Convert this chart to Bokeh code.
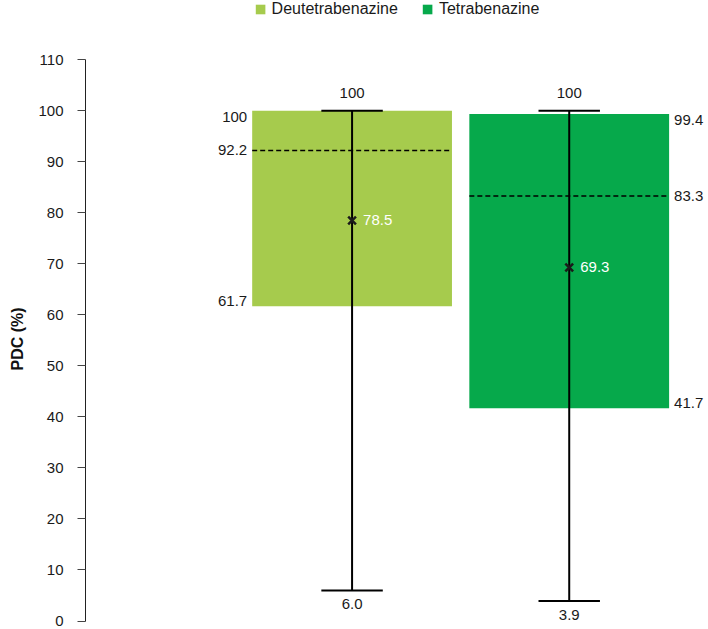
from bokeh.plotting import figure
from bokeh.models import ColumnDataSource, FixedTicker, Title
from bokeh.core.properties import value
from bokeh.embed import file_html
from bokeh.resources import INLINE

# ---- data ----
groups = ["Deutetrabenazine", "Tetrabenazine"]
low = [6.0, 3.9]
q1 = [61.7, 41.7]
median = [92.2, 83.3]
q3 = [100.0, 99.4]
high = [100.0, 100.0]
mean = [78.5, 69.3]
colors = ["#A6CB4D", "#06A94B"]
y_ticks = [0, 10, 20, 30, 40, 50, 60, 70, 80, 90, 100, 110]
y_title = "PDC (%)"

def fmt(v):
    return "100" if v == 100 else f"{v:.1f}"

FONT = "Liberation Sans"
W, H = 708, 629
LEFT = 84
PXU_X = 217.5
X_START = 1 - 267.0 / PXU_X
X_END = X_START + (W - LEFT) / PXU_X
Y0_PX, Y110_PX = 620.5, 59.3
PXU_Y = (Y0_PX - Y110_PX) / 110
Y_START = -(H - Y0_PX) / PXU_Y
Y_END = 110 + Y110_PX / PXU_Y

BOX_HALF = 0.46
CAP_HALF = 0.1415

xc = [i + 1 for i in range(len(groups))]

p = figure(width=W, height=H, x_range=(X_START, X_END), y_range=(Y_START, Y_END),
           output_backend="svg", toolbar_location=None, x_axis_type=None,
           min_border_left=LEFT, min_border_right=0, min_border_top=0, min_border_bottom=0)
p.grid.visible = False
p.outline_line_color = None
p.background_fill_color = "white"

# boxes
for i, g in enumerate(groups):
    bsrc = ColumnDataSource(dict(left=[xc[i] - BOX_HALF], right=[xc[i] + BOX_HALF],
                                 bottom=[q1[i]], top=[q3[i]]))
    p.quad(left="left", right="right", bottom="bottom", top="top", source=bsrc,
           fill_color=colors[i], line_color=None, legend_label=g)

src = ColumnDataSource(dict(
    x=xc,
    xl=[x - BOX_HALF for x in xc],
    xr=[x + BOX_HALF for x in xc],
    cl=[x - CAP_HALF for x in xc],
    cr=[x + CAP_HALF for x in xc],
    low=low, high=high, q1=q1, q3=q3, median=median, mean=mean,
    low_t=[fmt(v) for v in low], high_t=[fmt(v) for v in high],
    mean_t=[fmt(v) for v in mean],
))

# median dashed line
p.segment(x0="xl", x1="xr", y0="median", y1="median", source=src,
          line_color="black", line_width=1.5, line_dash="5 3")
# whiskers
p.segment(x0="x", x1="x", y0="low", y1="high", source=src, line_color="black", line_width=2)
p.segment(x0="cl", x1="cr", y0="low", y1="low", source=src, line_color="black", line_width=2)
p.segment(x0="cl", x1="cr", y0="high", y1="high", source=src, line_color="black", line_width=2)
# mean marker
p.scatter(x="x", y="mean", source=src, marker="x", size=11, line_width=2.5, line_color="#1a1a1a")

TS = "15px"
TC = "#1a1a1a"
# whisker labels
p.text(x="x", y="high", text="high_t", source=src, text_align="center",
       text_baseline="alphabetic", y_offset=-18, text_font=value(FONT),
       text_font_size=TS, text_color=TC)
p.text(x="x", y="low", text="low_t", source=src, text_align="center",
       text_baseline="alphabetic", y_offset=14, text_font=value(FONT),
       text_font_size=TS, text_color=TC)
# mean labels
p.text(x="x", y="mean", text="mean_t", source=src, text_align="left",
       text_baseline="alphabetic", x_offset=11, y_offset=-0.5, text_font=value(FONT),
       text_font_size=TS, text_color="white")

# box side labels: first box on left side, second on right side
for i in range(len(groups)):
    side = "xl" if i == 0 else "xr"
    align = "right" if i == 0 else "left"
    xo = -5 if i == 0 else 5
    s = ColumnDataSource(dict(
        x=[src.data[side][i]] * 3,
        y=[q3[i], median[i], q1[i]],
        t=[fmt(q3[i]), fmt(median[i]), fmt(q1[i])],
        yo=[6.5, -0.5, -5.5],
    ))
    p.text(x="x", y="y", text="t", source=s, text_align=align, text_baseline="alphabetic",
           x_offset=xo, y_offset="yo", text_font=value(FONT), text_font_size=TS, text_color=TC)

# y axis
ax = p.yaxis[0]
ax.ticker = FixedTicker(ticks=y_ticks)
ax.bounds = (0, 110)
ax.axis_line_color = "#222222"
ax.axis_line_width = 1
ax.major_tick_line_color = "#444444"
ax.major_tick_in = 0
ax.major_tick_out = 8
ax.minor_tick_line_color = None
ax.major_label_standoff = 14
ax.major_label_text_font = FONT
ax.major_label_text_font_size = TS
ax.major_label_text_color = TC

# y-axis title, placed so it is centred on the 0..110 axis span
p.add_layout(Title(text=y_title, align="left", offset=259, standoff=16,
                   vertical_align="top", text_font=FONT, text_font_size="16px",
                   text_font_style="bold", text_color="#111111"), "left")

# legend
lg = p.legend[0]
lg.location = "top_center"
lg.orientation = "horizontal"
lg.glyph_width = 12
lg.glyph_height = 12
lg.label_text_font = FONT
lg.label_text_font_size = "16px"
lg.label_text_color = TC
lg.label_standoff = 6
lg.spacing = 23
lg.padding = 0
lg.margin = 0
lg.border_line_alpha = 0
lg.background_fill_alpha = 0

open("out.html", "w").write(file_html(p, INLINE))
